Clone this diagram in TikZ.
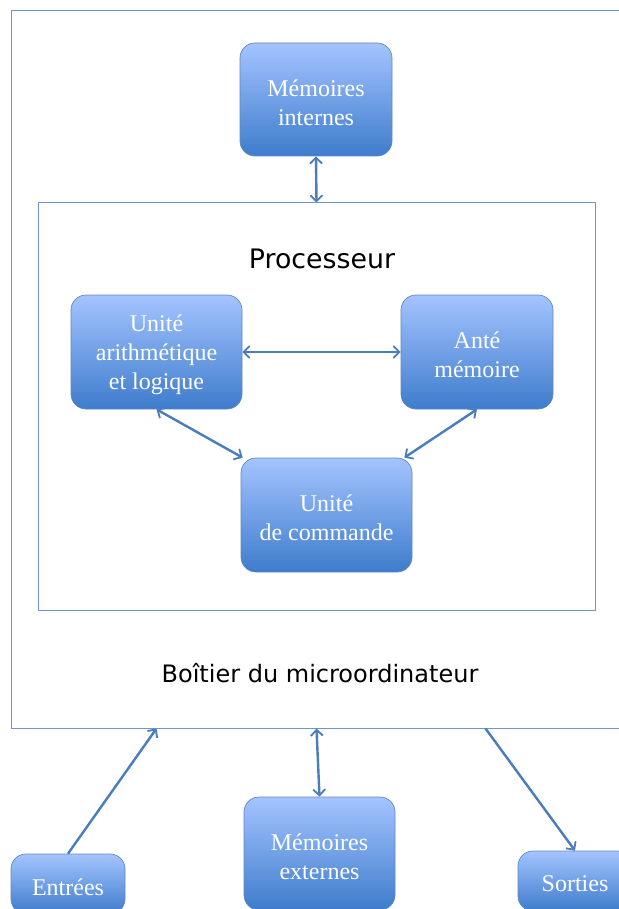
\documentclass[tikz,border=0pt]{standalone}
\usepackage{fontspec}
\setmainfont{Liberation Serif}
\newfontfamily\labelfont{DejaVu Sans}
\usetikzlibrary{arrows.meta,calc}
\definecolor{boxtop}{RGB}{164,196,255}
\definecolor{boxbot}{RGB}{62,124,204}
\definecolor{boxedge}{RGB}{96,136,196}
\definecolor{frameline}{RGB}{110,150,205}
\definecolor{arrowcol}{RGB}{74,124,190}
\tikzset{
  unitbox/.style={rectangle, rounded corners=15pt, draw=boxedge, line width=0.7pt,
    top color=boxtop, bottom color=boxbot, inner sep=0pt},
  unittext/.style={text=white, align=center, font=\fontsize{24}{29}\selectfont,
    inner sep=0pt, yshift=-3pt},
  framebox/.style={rectangle, draw=frameline, line width=1pt, inner sep=0pt},
  link/.style={draw=arrowcol, line width=2.4pt},
  tip/.tip={Straight Barb[length=6pt,width=12pt,line width=1.8pt]},
}
\begin{document}
\begin{tikzpicture}[x=1pt,y=-1pt]
\useasboundingbox (0,0) rectangle (618,909);
\fill[white] (0,0) rectangle (618,909);
% frames
\node[framebox, minimum width=620pt, minimum height=717pt] (boitier) at (321,369.5) {};
\node[framebox, minimum width=557pt, minimum height=407pt] (proc) at (316.5,406.5) {};
\node[font=\labelfont\fontsize{26.8}{32}\selectfont] (proctitle) at (322,259) {Processeur};
\node[font=\labelfont\fontsize{24}{29}\selectfont] (boittitle) at (320,673) {Boîtier du microordinateur};
% units
\node[unitbox, minimum width=152pt, minimum height=113pt,
  label={[unittext]center:Mémoires\\internes}] (mint) at (316,99.5) {};
\node[unitbox, minimum width=171pt, minimum height=114pt,
  label={[unittext]center:Unité\\arithmétique\\et logique}] (alu) at (156.5,352) {};
\node[unitbox, minimum width=152pt, minimum height=114pt,
  label={[unittext]center:Anté\\mémoire}] (ante) at (477,352) {};
\node[unitbox, minimum width=171pt, minimum height=114pt,
  label={[unittext]center:Unité\\de commande}] (uc) at (326.5,515) {};
\node[unitbox, minimum width=114pt, minimum height=60pt,
  label={[unittext]center:Entrées}] (entrees) at (68,884) {};
\node[unitbox, minimum width=151pt, minimum height=113pt,
  label={[unittext]center:Mémoires\\externes}] (mext) at (319.5,853.5) {};
\node[unitbox, minimum width=114pt, minimum height=60pt,
  label={[unittext]center:Sorties}] (sorties) at (575,881) {};
% connectors
\draw[link, {tip}-{tip}] (mint.south) -- (proc.north);
\draw[link, {tip}-{tip}] (alu.east) -- (ante.west);
\draw[link, {tip}-{tip}] (alu.south) -- ($(uc.north west)+(2,0)$);
\draw[link, {tip}-{tip}] (ante.south) -- ($(uc.north east)+(-8,0)$);
\draw[link, -{tip}] (entrees.north) -- ($(boitier.south west)+(146,0)$);
\draw[link, {tip}-{tip}] ($(boitier.south west)+(306,0)$) -- (mext.north);
\draw[link, -{tip}] ($(boitier.south west)+(475,0)$) -- (sorties.north);
\end{tikzpicture}
\end{document}
